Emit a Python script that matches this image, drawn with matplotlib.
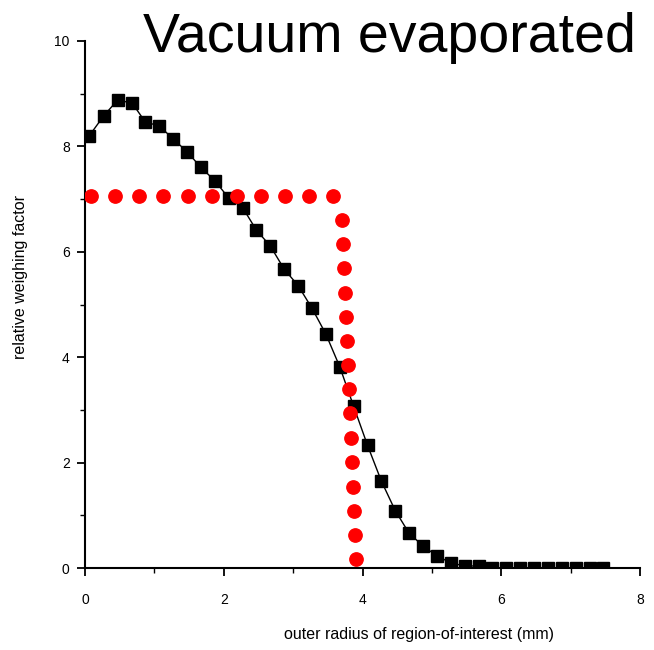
import matplotlib
matplotlib.use("Agg")
import matplotlib.pyplot as plt
from matplotlib.ticker import MultipleLocator

plt.rcParams['font.family'] = ['Liberation Sans', 'DejaVu Sans']

x_sq = [0.06, 0.27, 0.47, 0.68, 0.87, 1.07, 1.27, 1.47, 1.67, 1.87,
        2.07, 2.27, 2.47, 2.67, 2.87, 3.07, 3.27, 3.47, 3.67, 3.87,
        4.07, 4.27, 4.47, 4.67, 4.87, 5.07, 5.27, 5.47, 5.67, 5.87,
        6.07, 6.27, 6.47, 6.67, 6.87, 7.07, 7.27, 7.47]
y_sq = [8.20, 8.58, 8.88, 8.82, 8.46, 8.39, 8.14, 7.90, 7.60, 7.35,
        7.02, 6.84, 6.41, 6.11, 5.67, 5.36, 4.93, 4.44, 3.82, 3.07,
        2.33, 1.65, 1.09, 0.66, 0.42, 0.23, 0.10, 0.04, 0.04, 0.0,
        0.0, 0.0, 0.0, 0.0, 0.0, 0.0, 0.0, 0.0]

x_red = [0.09, 0.43, 0.78, 1.13, 1.48, 1.83, 2.19, 2.53, 2.88, 3.22, 3.58,
         3.70, 3.72, 3.73, 3.74, 3.76, 3.77, 3.79, 3.80, 3.82, 3.83, 3.85,
         3.86, 3.87, 3.89, 3.90]
y_red = [7.06, 7.06, 7.06, 7.06, 7.06, 7.06, 7.06, 7.06, 7.06, 7.06, 7.06,
         6.60, 6.15, 5.69, 5.22, 4.76, 4.31, 3.85, 3.40, 2.94, 2.47, 2.01,
         1.54, 1.08, 0.63, 0.17]

title = "Vacuum evaporated"
xlabel = "outer radius of region-of-interest (mm)"
ylabel = "relative weighing factor"

fig = plt.figure(figsize=(6.54, 6.5), dpi=100)
ax = fig.add_axes([0.130, 0.126, 0.849, 0.811])

ax.plot(x_sq, y_sq, color='black', lw=1.0, marker='s', markersize=8.8,
        markerfacecolor='black', markeredgecolor='black', zorder=3)
ax.plot(x_red, y_red, linestyle='none', marker='o', markersize=9.6,
        markerfacecolor='red', markeredgecolor='red', zorder=4)

ax.set_xlim(0, 8)
ax.set_ylim(0, 10)
ax.xaxis.set_major_locator(MultipleLocator(2))
ax.xaxis.set_minor_locator(MultipleLocator(1))
ax.yaxis.set_major_locator(MultipleLocator(2))
ax.yaxis.set_minor_locator(MultipleLocator(1))

for s in ['top', 'right']:
    ax.spines[s].set_visible(False)
for s in ['left', 'bottom']:
    ax.spines[s].set_linewidth(1.5)

ax.tick_params(which='major', direction='out', length=6, width=1.3,
               labelsize=10)
ax.tick_params(which='minor', direction='out', length=3.5, width=1.0)
ax.tick_params(axis='x', which='major', pad=12)
ax.tick_params(axis='y', which='major', pad=5)

fig.text(0.640, 0.012, xlabel, ha='center', va='bottom', fontsize=11.5)
fig.text(0.032, 0.574, ylabel, ha='center', va='center', rotation=90,
         fontsize=11.5)
fig.text(0.973, 0.920, title, ha='right', va='baseline', fontsize=40)

fig.savefig("out.png", dpi=100)
